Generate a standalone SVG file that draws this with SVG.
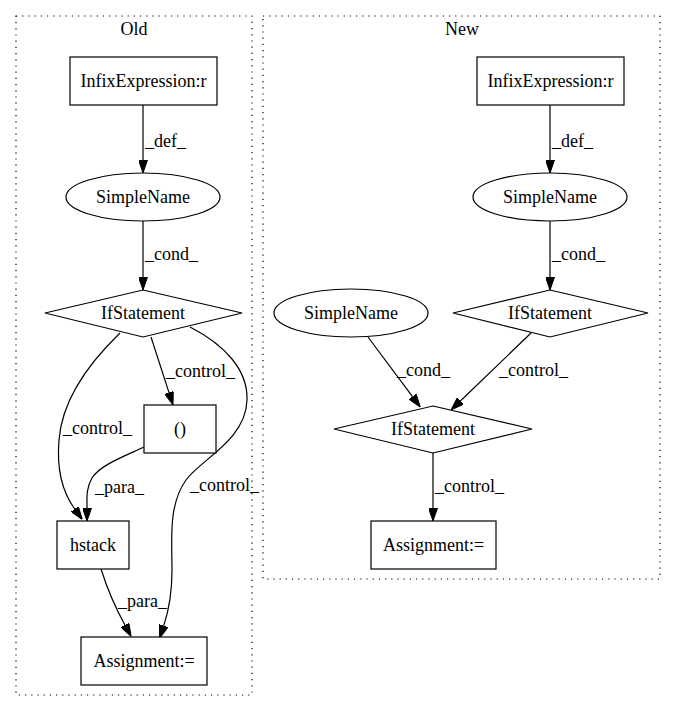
<svg xmlns="http://www.w3.org/2000/svg" width="676" height="712" viewBox="0 0 676 712">
<style>
text{font-family:"Liberation Serif","Times New Roman",serif;font-size:18px;fill:#000}
.c{text-anchor:middle}
.n{fill:#fff;stroke:#000;stroke-width:1.2}
.e{fill:none;stroke:#000;stroke-width:1.2}
.cl{fill:none;stroke:#000;stroke-width:1.2;stroke-dasharray:1.2,5}
</style>
<defs>
<marker id="ah" viewBox="0 0 13 9" refX="0" refY="4.5" markerWidth="13" markerHeight="9" markerUnits="userSpaceOnUse" orient="auto">
<path d="M0,0 L13,4.5 L0,9 Z" fill="#000" stroke="#000" stroke-width="1"/>
</marker>
</defs>
<rect width="676" height="712" fill="#fff"/>
<g id="cluster_old">
<rect class="cl" x="16" y="16" width="236" height="679"/>
<text class="c" x="134" y="35">Old</text>
</g>
<g id="cluster_new">
<rect class="cl" x="263" y="16" width="397" height="563"/>
<text class="c" x="462" y="35">New</text>
</g>
<g id="edges">
<path class="e" d="M143,105 L143,160" marker-end="url(#ah)"/>
<text x="145" y="147">_def_</text>
<path class="e" d="M143,221 L143,277" marker-end="url(#ah)"/>
<text x="145" y="260">_cond_</text>
<path class="e" d="M151,337 L169,392.6" marker-end="url(#ah)"/>
<text x="166" y="377">_control_</text>
<path class="e" d="M120,333 C90,362 62,400 59,440 C56,475 66,497 74.7,509" marker-end="url(#ah)"/>
<text x="63" y="434">_control_</text>
<path class="e" d="M144,447 C125,456 100,465 92,478 C86,488 87,498 87,508" marker-end="url(#ah)"/>
<text x="95" y="493">_para_</text>
<path class="e" d="M190,327 C225,345 248,370 247,400 C246,440 200,460 186,480 C168,505 172,540 172,570 C172,590 169,610 163.7,625.9" marker-end="url(#ah)"/>
<text x="190" y="491">_control_</text>
<path class="e" d="M101,569 C107,588 115,607 124.9,625" marker-end="url(#ah)"/>
<text x="118" y="607">_para_</text>
<path class="e" d="M550,105 L550,160" marker-end="url(#ah)"/>
<text x="552" y="147">_def_</text>
<path class="e" d="M550,221 L550,277" marker-end="url(#ah)"/>
<text x="552" y="260">_cond_</text>
<path class="e" d="M368,337 L412.5,396.6" marker-end="url(#ah)"/>
<text x="397" y="376">_cond_</text>
<path class="e" d="M531,333 L460.4,401" marker-end="url(#ah)"/>
<text x="499" y="376">_control_</text>
<path class="e" d="M433,453 L433,508" marker-end="url(#ah)"/>
<text x="435" y="492">_control_</text>
</g>
<g id="old_infix">
<rect class="n" x="70" y="57" width="147" height="48"/>
<text class="c" x="143.5" y="87">InfixExpression:r</text>
</g>
<g id="old_simplename">
<ellipse class="n" cx="143" cy="197" rx="77" ry="24"/>
<text class="c" x="143" y="203">SimpleName</text>
</g>
<g id="old_if">
<polygon class="n" points="143,290 242,313 143,337 45,313"/>
<text class="c" x="143" y="319">IfStatement</text>
</g>
<g id="old_paren">
<rect class="n" x="144" y="405" width="72" height="48"/>
<text class="c" x="180" y="435">()</text>
</g>
<g id="old_hstack">
<rect class="n" x="57" y="521" width="72" height="48"/>
<text class="c" x="93" y="551">hstack</text>
</g>
<g id="old_assign">
<rect class="n" x="81" y="637" width="126" height="48"/>
<text class="c" x="144" y="667">Assignment:=</text>
</g>
<g id="new_infix">
<rect class="n" x="477" y="57" width="147" height="48"/>
<text class="c" x="550.5" y="87">InfixExpression:r</text>
</g>
<g id="new_simplename">
<ellipse class="n" cx="550" cy="197" rx="77" ry="24"/>
<text class="c" x="550" y="203">SimpleName</text>
</g>
<g id="new_if1">
<polygon class="n" points="550,290 648,313 550,337 453,313"/>
<text class="c" x="550" y="319">IfStatement</text>
</g>
<g id="new_simplename2">
<ellipse class="n" cx="351" cy="313" rx="77" ry="24"/>
<text class="c" x="351" y="319">SimpleName</text>
</g>
<g id="new_if2">
<polygon class="n" points="433,406 532,429 433,453 334,429"/>
<text class="c" x="433" y="435">IfStatement</text>
</g>
<g id="new_assign">
<rect class="n" x="371" y="521" width="125" height="48"/>
<text class="c" x="433.5" y="551">Assignment:=</text>
</g>
</svg>
